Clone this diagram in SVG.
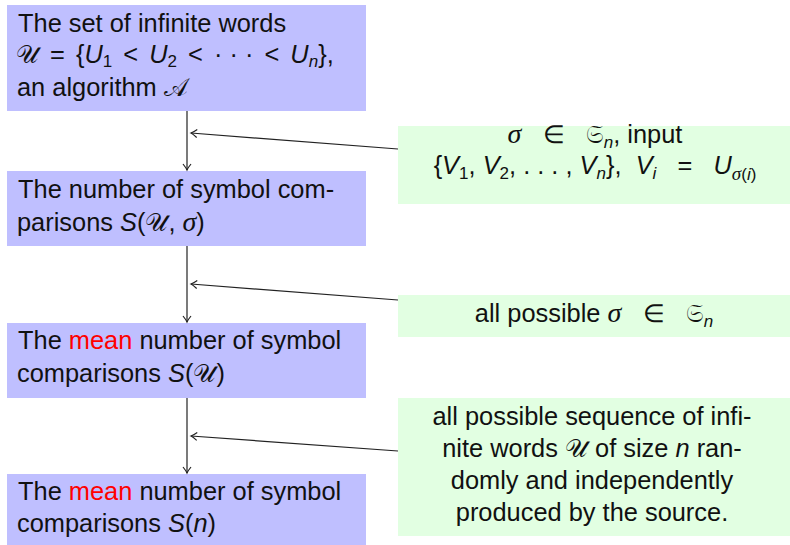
<svg xmlns="http://www.w3.org/2000/svg" width="790" height="545" viewBox="0 0 790 545">
<style>
.t{font-family:"Liberation Sans",Arial,sans-serif;font-size:25.4px;fill:#111}
.i{font-style:italic}
.g{font-family:"Liberation Serif","DejaVu Serif",serif;font-style:italic;font-size:28px}
.m{font-family:"DejaVu Serif","DejaVu Sans","Noto Sans",serif}
.s{font-size:17px}
.r{fill:#ff0000}
.blue{fill:#bfbfff}
.green{fill:#e2ffe2}
.c{fill:none;stroke:#222;stroke-width:1.2}
</style>
<defs>
<marker id="ah" markerWidth="12" markerHeight="12" refX="0" refY="0" viewBox="-8 -6 10 12" orient="auto" markerUnits="userSpaceOnUse">
<path d="M-6,-4 Q-2,-0.8 0,0 Q-2,0.8 -6,4" fill="none" stroke="#222" stroke-width="1.2"/>
</marker>
</defs>
<g id="n1">
<rect class="blue" x="7" y="5" width="359" height="106"/>
<text class="t" x="18" y="32">The set of infinite words</text>
<text class="t" x="16" y="63" xml:space="preserve"><tspan class="m">𝒰</tspan><tspan dx="4"> = </tspan><tspan dx="4">{</tspan><tspan class="i">U</tspan><tspan class="s" dy="4">1</tspan><tspan dy="-4" dx="4"> &lt; </tspan><tspan class="i" dx="4">U</tspan><tspan class="s" dy="4">2</tspan><tspan dy="-4" dx="4"> &lt; </tspan><tspan dx="4">· · ·</tspan><tspan dx="4"> &lt; </tspan><tspan class="i" dx="4">U</tspan><tspan class="s i" dy="4">n</tspan><tspan dy="-4">},</tspan></text>
<text class="t" x="17" y="96">an algorithm <tspan class="m">𝒜</tspan></text>
</g>
<g id="n2">
<rect class="blue" x="7" y="171" width="359" height="75"/>
<text class="t" x="18" y="198">The number of symbol com-</text>
<text class="t" x="17" y="231">parisons <tspan class="i">S</tspan>(<tspan class="m">𝒰</tspan>, <tspan class="g">σ</tspan>)</text>
</g>
<g id="n3">
<rect class="blue" x="7" y="323" width="359" height="75"/>
<text class="t" x="18" y="349">The <tspan class="r">mean</tspan> number of symbol</text>
<text class="t" x="17" y="382">comparisons <tspan class="i">S</tspan>(<tspan class="m">𝒰</tspan>)</text>
</g>
<g id="n4">
<rect class="blue" x="7" y="474" width="359" height="71"/>
<text class="t" x="18" y="500">The <tspan class="r">mean</tspan> number of symbol</text>
<text class="t" x="17" y="532">comparisons <tspan class="i">S</tspan>(<tspan class="i">n</tspan>)</text>
</g>
<g id="g1">
<rect class="green" x="398" y="126" width="392" height="78"/>
<text class="t" x="595" y="143" text-anchor="middle" xml:space="preserve"><tspan class="g">σ</tspan>   ∈   <tspan class="m">𝔖</tspan><tspan class="s i" dy="5">n</tspan><tspan dy="-5">, input</tspan></text>
<text class="t" x="595" y="174" text-anchor="middle" xml:space="preserve">{<tspan class="i">V</tspan><tspan class="s" dy="5">1</tspan><tspan dy="-5">, </tspan><tspan class="i">V</tspan><tspan class="s" dy="5">2</tspan><tspan dy="-5">, . . . , </tspan><tspan class="i">V</tspan><tspan class="s i" dy="5">n</tspan><tspan dy="-5">},  </tspan><tspan class="i">V</tspan><tspan class="s i" dy="5">i</tspan><tspan dy="-5">   =   </tspan><tspan class="i">U</tspan><tspan class="s" dy="6"><tspan class="g" style="font-size:19px">σ</tspan>(<tspan class="i">i</tspan>)</tspan></text>
</g>
<g id="g2">
<rect class="green" x="398" y="295" width="392" height="42"/>
<text class="t" x="594" y="322" text-anchor="middle" xml:space="preserve">all possible <tspan class="g">σ</tspan>   ∈   <tspan class="m">𝔖</tspan><tspan class="s i" dy="5">n</tspan></text>
</g>
<g id="g3">
<rect class="green" x="398" y="398" width="392" height="138"/>
<text class="t" x="592" y="425" text-anchor="middle">all possible sequence of infi-</text>
<text class="t" x="592" y="457" text-anchor="middle">nite words <tspan class="m">𝒰</tspan> of size <tspan class="i">n</tspan> ran-</text>
<text class="t" x="592" y="489" text-anchor="middle">domly and independently</text>
<text class="t" x="592" y="521" text-anchor="middle">produced by the source.</text>
</g>
<g id="connectors">
<line class="c" x1="187" y1="111" x2="187" y2="170" marker-end="url(#ah)"/>
<line class="c" x1="187" y1="246" x2="187" y2="322" marker-end="url(#ah)"/>
<line class="c" x1="187" y1="398" x2="187" y2="473" marker-end="url(#ah)"/>
<line class="c" x1="398" y1="149" x2="191" y2="133" marker-end="url(#ah)"/>
<line class="c" x1="398" y1="300" x2="191" y2="284" marker-end="url(#ah)"/>
<line class="c" x1="398" y1="451" x2="191" y2="436" marker-end="url(#ah)"/>
</g>
</svg>
